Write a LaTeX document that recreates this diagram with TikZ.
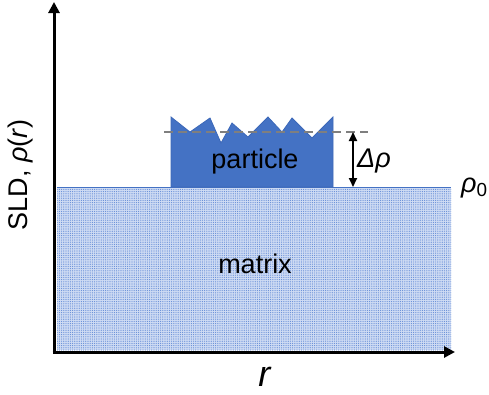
\documentclass[tikz,border=0pt]{standalone}
\usepackage{fontspec}
\setmainfont{Liberation Sans}
\usetikzlibrary{arrows.meta,patterns.meta}
\definecolor{partblue}{RGB}{68,114,196}
\definecolor{partedge}{RGB}{60,104,184}
\definecolor{matfill}{RGB}{206,219,243}
\definecolor{matdot}{RGB}{100,140,215}
\definecolor{dashgray}{RGB}{127,127,127}
\tikzset{
  axisline/.style={line width=3pt,-{Triangle[length=11pt,width=11pt]}},
  lbl/.style={inner sep=0pt,font=\fontsize{27}{32}\selectfont},
  deltaarrow/.style={line width=1.8pt,{Triangle[length=9pt,width=8pt]}-{Triangle[length=9pt,width=8pt]}},
}
\begin{document}
\begin{tikzpicture}[x=1pt,y=-1pt]
\useasboundingbox (0,0) rectangle (489,394);
% matrix
\fill[matfill] (57,188) rectangle (451,350);
\fill[pattern={Dots[distance=2.2pt,radius=0.6pt]},pattern color=matdot] (57,188) rectangle (451,350);
\draw[partblue,line width=1pt] (57,187) -- (451,187);
% particle
\draw[partedge,line width=0.8pt,fill=partblue]
  (171,187) -- (171,117) -- (190,132) -- (210,118) -- (221,143) -- (232,123)
  -- (248,137) -- (268,117) -- (282,132) -- (292,118) -- (312,138) -- (333,117)
  -- (333,187) -- cycle;
% dashed line
\coordinate (dl) at (164,132);
\coordinate (dr) at (368,132);
\draw[dashgray,line width=2.5pt,dash pattern=on 9pt off 5pt] (dl) -- (dr);
% delta arrow
\coordinate (dtop) at (353,132);
\coordinate (dbot) at (353,187);
\draw[deltaarrow] (dtop) -- (dbot);
% axes
\coordinate (origin) at (54,352);
\coordinate (ytop) at (54,2);
\coordinate (xend) at (455,352);
\draw[axisline] ([xshift=0pt]origin) -- (ytop);
\draw[axisline] ([xshift=-1.5pt]origin) -- (xend);
% labels
\node[lbl,anchor=base] (particle) at (255,168) {particle};
\node[lbl,anchor=base] (matrix) at (255,273) {matrix};
\node[lbl,anchor=base west] (drho) at (357,167) {\textit{Δρ}};
\node[lbl,anchor=base west] (rho0) at (461,192) {\textit{ρ}\textsubscript{0}};
\node[inner sep=0pt,font=\fontsize{36}{42}\selectfont,anchor=base] (rlab) at (265,386) {\textit{r}};
\node[lbl,rotate=90] (sld) at (21,175) {SLD, \textit{ρ}(\textit{r})};
\end{tikzpicture}
\end{document}
